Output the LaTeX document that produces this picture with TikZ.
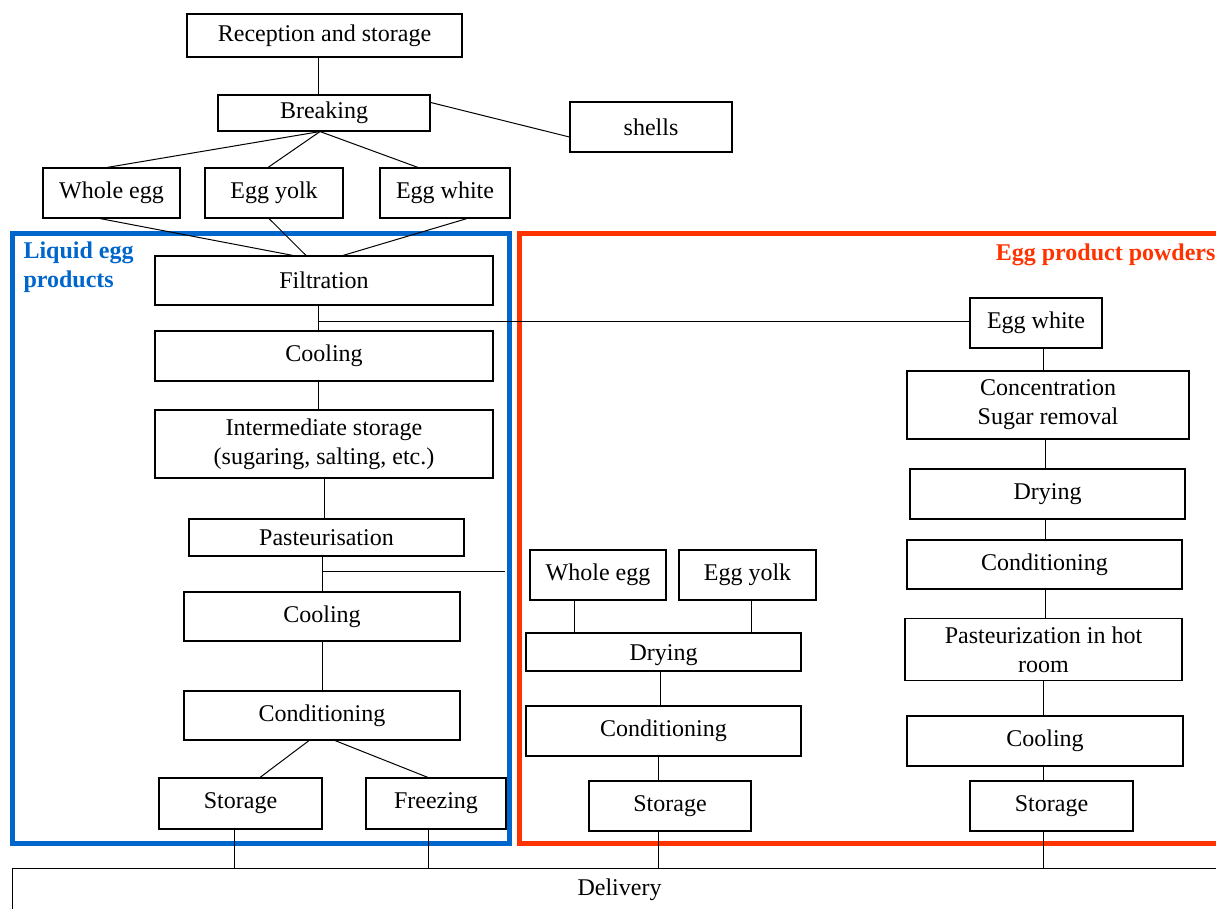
\documentclass[tikz,border=0pt]{standalone}
\usepackage{fontspec}
\setmainfont{Liberation Serif}
\begin{document}
\begin{tikzpicture}[x=1pt,y=-1pt,
	box/.style={draw,line width=1.1pt,inner sep=0pt,align=center,font=\fontsize{24}{29}\selectfont},
	con/.style={line width=1pt}]
	\definecolor{liqblue}{RGB}{0,102,204}
	\definecolor{powred}{RGB}{255,51,0}
	\useasboundingbox (0,0) rectangle (1216,908);

	% frames
	\draw[line width=5pt,liqblue] (12,233) rectangle (509,843);
	\draw[line width=5pt,powred] (519,233) rectangle (1230,843);
	\node[anchor=north west,align=left,text=liqblue,font=\fontsize{24}{29}\selectfont\bfseries] (liqlab) at (20,238) {Liquid egg\\products};
	\node[anchor=east,text=powred,font=\fontsize{24}{29}\selectfont\bfseries] (powlab) at (1219,255) {Egg product powders};

	% top part
	\node[box,minimum width=275,minimum height=43] (recep) at (324.5,35.5) {Reception and storage};
	\node[box,minimum width=212,minimum height=36] (break) at (324,113) {Breaking};
	\node[box,minimum width=162,minimum height=50] (shells) at (651,127) {shells};
	\node[box,minimum width=137,minimum height=50] (wegg) at (111.5,193) {Whole egg};
	\node[box,minimum width=138,minimum height=50] (yolk) at (274,193) {Egg yolk};
	\node[box,minimum width=130,minimum height=50] (white) at (445,193) {Egg white};

	\draw[con] ([xshift=-6]recep.south) -- ([xshift=-6]recep.south |- break.north);
	\draw[con] ([yshift=-8]break.north east) -- ([yshift=-10]shells.west);
	\draw[con] ([xshift=-4]break.south) -- ([xshift=-4.5]wegg.north);
	\draw[con] ([xshift=-4]break.south) -- ([xshift=-6]yolk.north);
	\draw[con] ([xshift=-4]break.south) -- ([xshift=-27]white.north);

	% liquid egg products
	\node[box,minimum width=338,minimum height=49] (filt) at (324,280.5) {Filtration};
	\node[box,minimum width=338,minimum height=50] (cool) at (324,356) {Cooling};
	\node[box,minimum width=338,minimum height=68] (inter) at (324,444) {Intermediate storage\\(sugaring, salting, etc.)};
	\node[box,minimum width=275,minimum height=37] (past) at (326.5,537.5) {Pasteurisation};
	\node[box,minimum width=276,minimum height=49] (cool2) at (322,616.5) {Cooling};
	\node[box,minimum width=276,minimum height=49] (cond) at (322,715.5) {Conditioning};
	\node[box,minimum width=163,minimum height=51] (stor) at (240.5,803.5) {Storage};
	\node[box,minimum width=140,minimum height=51] (freez) at (436,803.5) {Freezing};

	\draw[con] ([xshift=-11.5]wegg.south) -- ([xshift=-31]filt.north);
	\draw[con] ([xshift=-5]yolk.south) -- ([xshift=-18]filt.north);
	\draw[con] ([xshift=22]white.south) -- ([xshift=19]filt.north);
	\draw[con] ([xshift=-6]filt.south) -- ([xshift=-6]filt.south |- cool.north);
	\draw[con] ([xshift=-6]cool.south) -- ([xshift=-6]cool.south |- inter.north);
	\draw[con] (inter.south) -- (inter.south |- past.north);
	\draw[con] ([xshift=-4.5]past.south) -- ([xshift=-4.5]past.south |- cool2.north);
	\draw[con] (cool2.south) -- (cool2.south |- cond.north);
	\draw[con] ([xshift=-13]cond.south) -- ([xshift=19.5]stor.north);
	\draw[con] ([xshift=13]cond.south) -- ([xshift=-8]freez.north);

	% egg white powders
	\node[box,minimum width=132,minimum height=50] (ewhite) at (1036,323) {Egg white};
	\node[box,minimum width=282,minimum height=68] (conc) at (1048,405) {Concentration\\Sugar removal};
	\node[box,minimum width=275,minimum height=50] (dryR) at (1047.5,494) {Drying};
	\node[box,minimum width=275,minimum height=49] (condR) at (1044.5,564.5) {Conditioning};
	\node[box,minimum width=277,minimum height=62] (pastR) at (1043.5,649.5) {Pasteurization in hot\\room};
	\node[box,minimum width=276,minimum height=50] (coolR) at (1045,741) {Cooling};
	\node[box,minimum width=163,minimum height=50] (storR) at (1051.5,806) {Storage};

	\coordinate (fjoin) at (318,321);
	\coordinate (pjoin) at (322,571);
	\coordinate (pend) at (505,571);
	\draw[con] (fjoin) -- (fjoin -| ewhite.west);
	\draw[con] (pjoin) -- (pend);

	\draw[con] ([xshift=7]ewhite.south) -- ([xshift=7]ewhite.south |- conc.north);
	\draw[con] ([xshift=-3]conc.south) -- ([xshift=-3]conc.south |- dryR.north);
	\draw[con] ([xshift=-2.5]dryR.south) -- ([xshift=-2.5]dryR.south |- condR.north);
	\draw[con] ([xshift=1]condR.south) -- ([xshift=1]condR.south |- pastR.north);
	\draw[con] (pastR.south) -- (pastR.south |- coolR.north);
	\draw[con] ([xshift=-2]coolR.south) -- ([xshift=-2]coolR.south |- storR.north);

	% whole egg and yolk powders
	\node[box,minimum width=136,minimum height=50] (weggM) at (598,575) {Whole egg};
	\node[box,minimum width=137,minimum height=50] (yolkM) at (747.5,575) {Egg yolk};
	\node[box,minimum width=275,minimum height=38,text depth=0pt,text height=17pt] (dryM) at (663.5,652) {Drying};
	\node[box,minimum width=275,minimum height=50] (condM) at (663.5,731) {Conditioning};
	\node[box,minimum width=162,minimum height=50] (storM) at (670,806) {Storage};

	\draw[con] ([xshift=-24]weggM.south) -- ([xshift=-24]weggM.south |- dryM.north);
	\draw[con] ([xshift=3.5]yolkM.south) -- ([xshift=3.5]yolkM.south |- dryM.north);
	\draw[con] ([xshift=-3.5]dryM.south) -- ([xshift=-3.5]dryM.south |- condM.north);
	\draw[con] ([xshift=-5.5]condM.south) -- ([xshift=-5.5]condM.south |- storM.north);

	% delivery
	\node[box,anchor=north west,minimum width=1214,minimum height=42] (deliv) at (12,868) {Delivery};
	\draw[con] ([xshift=-6.5]stor.south) -- ([xshift=-6.5]stor.south |- deliv.north);
	\draw[con] ([xshift=-8]freez.south) -- ([xshift=-8]freez.south |- deliv.north);
	\draw[con] ([xshift=-12]storM.south) -- ([xshift=-12]storM.south |- deliv.north);
	\draw[con] ([xshift=-8.5]storR.south) -- ([xshift=-8.5]storR.south |- deliv.north);
\end{tikzpicture}
\end{document}
